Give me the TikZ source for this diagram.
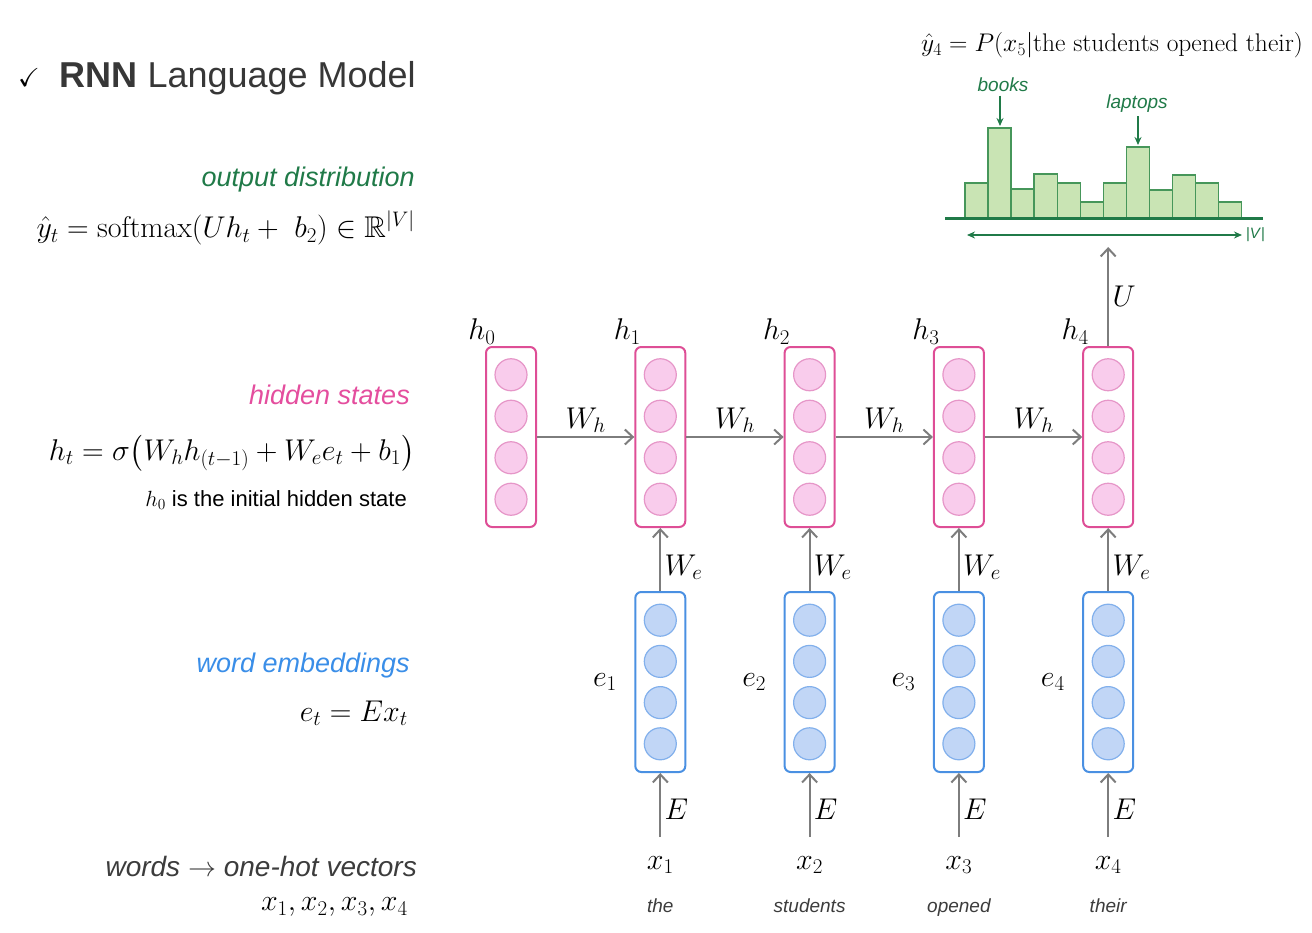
\RequirePackage{fix-cm}
\documentclass[tikz,border=0pt]{standalone}
\usepackage{amsmath, amssymb}
\usepackage{fontspec}
\newfontfamily\arial{Liberation Sans}
\usepackage{xcolor}
\usepackage{tikz}
\usetikzlibrary{arrows.meta, positioning, calc}
\definecolor{hidline}{RGB}{222,78,150}
\definecolor{hidunitfill}{RGB}{249,204,236}
\definecolor{hidunitline}{RGB}{230,150,200}
\definecolor{embline}{RGB}{74,144,226}
\definecolor{embunitfill}{RGB}{193,214,246}
\definecolor{embunitline}{RGB}{130,176,236}
\definecolor{distgreen}{RGB}{32,122,72}
\definecolor{barfill}{RGB}{201,228,180}
\definecolor{barline}{RGB}{70,150,90}
\definecolor{hidtext}{RGB}{228,78,158}
\definecolor{embtext}{RGB}{58,142,232}
\definecolor{arrowgray}{RGB}{125,125,125}
\definecolor{titlegray}{RGB}{55,55,55}
\definecolor{wordgray}{RGB}{60,60,60}
\tikzset{
    hidbox/.style={rectangle, rounded corners=6pt, draw=hidline, line width=2pt, fill=white, minimum width=50pt, minimum height=180pt},
    embbox/.style={hidbox, draw=embline},
    hidunit/.style={circle, draw=hidunitline, fill=hidunitfill, line width=1.2pt, minimum size=32pt, inner sep=0pt},
    embunit/.style={hidunit, draw=embunitline, fill=embunitfill},
    arrow/.style={line width=2pt, draw=arrowgray, -{Straight Barb[length=8pt, width=15pt]}},
    greenarrow/.style={line width=1.5pt, draw=distgreen, -{Stealth[length=8pt, width=7pt]}},
    vocab/.style={line width=2pt, draw=distgreen, {Stealth[length=8pt, width=7pt]}-{Stealth[length=8pt, width=7pt]}},
    mathlbl/.style={font=\fontsize{30}{36}\selectfont},
    side/.style={anchor=east, inner sep=1pt, font=\arial\itshape\fontsize{27}{32}\selectfont},
    formula/.style={anchor=east, inner sep=1pt, font=\fontsize{30}{36}\selectfont},
    word/.style={font=\arial\itshape\fontsize{19}{23}\selectfont, text=wordgray},
    bar/.style={draw=barline, fill=barfill, line width=1.5pt}
}

\begin{document}
\begin{tikzpicture}[x=1pt, y=-1pt, node distance=97.3pt]
    \useasboundingbox (0,0) rectangle (1312,933);

    % left column
    \node (tick) at (29,78) {\fontsize{26}{30}\selectfont$\checkmark$};
    \node (title) [anchor=west, font=\arial\fontsize{36}{42}\selectfont, text=titlegray] at (56,78) {\textbf{RNN} Language Model};
    \node (outlbl) [side, text=distgreen] at (416,180) {output distribution};
    \node (softmax) [formula] at (416,228) {$\hat{y}_t = \mathrm{softmax}(Uh_t +\ b_2) \in \mathbb{R}^{|V|}$};
    \node (hidlbl) [side, text=hidtext] at (411,395) {hidden states};
    \node (hform) [formula] at (416,453) {$h_t = \sigma\bigl(W_h h_{(t-1)} + W_e e_t + b_1\bigr)$};
    \node (h0note) [anchor=east, inner sep=1pt, font=\arial\fontsize{22}{26}\selectfont] at (408,500) {$h_0$ is the initial hidden state};
    \node (emblbl) [side, text=embtext] at (411,666) {word embeddings};
    \node (eform) [formula] at (409,713) {$e_t = Ex_t$};
    \node (onehot) [side, text=wordgray, font=\arial\itshape\fontsize{28}{32}\selectfont] at (418,866) {words $\rightarrow$ one-hot vectors};
    \node (xlist) [formula] at (409,907) {$x_1, x_2, x_3, x_4$};

    % hidden states
    \node (h0) [hidbox] at (511,437) {};
    \node (h1) [hidbox, right=of h0] {};
    \node (h2) [hidbox, right=of h1] {};
    \node (h3) [hidbox, right=of h2] {};
    \node (h4) [hidbox, right=of h3] {};

    % word embeddings
    \node (e1) [embbox, below=63pt of h1] {};
    \node (e2) [embbox, below=63pt of h2] {};
    \node (e3) [embbox, below=63pt of h3] {};
    \node (e4) [embbox, below=63pt of h4] {};

    \foreach \b in {h0,h1,h2,h3,h4}
        \foreach \k in {1,...,4}
            \node (\b-\k) [hidunit] at ($(\b.center)+(0,{(\k-2.5)*41.5})$) {};
    \foreach \b in {e1,e2,e3,e4}
        \foreach \k in {1,...,4}
            \node (\b-\k) [embunit] at ($(\b.center)+(0,{(\k-2.5)*41.2})$) {};

    \node (h0lbl) [mathlbl, above=-2pt of h0.north west, xshift=-3pt] {$h_0$};
    \foreach \i in {1,...,4} {
        \node (h\i lbl) [mathlbl, above=-2pt of h\i.north west, xshift=-7pt] {$h_\i$};
        \node (e\i lbl) [mathlbl, left=14pt of e\i] {$e_\i$};
        \draw [arrow] (e\i) -- node[mathlbl, right, pos=0.38] (we\i) {$W_e$} (h\i);
    }

    \draw [arrow] (h0) -- node[mathlbl, above] (wh1) {$W_h$} (h1);
    \draw [arrow] (h1) -- node[mathlbl, above] (wh2) {$W_h$} (h2);
    \draw [arrow] (h2) -- node[mathlbl, above] (wh3) {$W_h$} (h3);
    \draw [arrow] (h3) -- node[mathlbl, above] (wh4) {$W_h$} (h4);

    % words
    \node (x1) [mathlbl, below=80pt of e1] {$x_1$};
    \node (x2) [mathlbl, below=80pt of e2] {$x_2$};
    \node (x3) [mathlbl, below=80pt of e3] {$x_3$};
    \node (x4) [mathlbl, below=80pt of e4] {$x_4$};
    \node (w1) [word, below=18pt of x1] {the};
    \node (w2) [word, below=18pt of x2] {students};
    \node (w3) [word, below=18pt of x3] {opened};
    \node (w4) [word, below=18pt of x4] {their};
    \foreach \i in {1,...,4}
        \draw [arrow, shorten <=16pt] (x\i) -- node[mathlbl, right, pos=0.55] (emb\i) {$E$} (e\i);

    % output distribution
    \coordinate (dist) at ($(h4.north)+(0,-99)$);
    \draw [arrow] (h4) -- node[mathlbl, right] (ulbl) {$U$} (dist);
    \node (yhat) [font=\fontsize{25.5}{30}\selectfont] at (1112,45) {$\hat{y}_4 = P(x_5|\mathrm{the\ students\ opened\ their})$};
    \foreach \h [count=\i] in {36,91,30,45,36,17,36,72,29,44,36,17}
        \draw [bar] ({965+(\i-1)*23.06},219) rectangle +(23.06,-\h);
    \coordinate (axl) at (945,219);
    \coordinate (axr) at (1263,219);
    \draw [line width=3pt, draw=distgreen] (axl) -- (axr);
    \coordinate (vl) at (967,235);
    \coordinate (vr) at (1242,235);
    \draw [vocab] (vl) -- (vr) node[right, inner sep=3pt, text=distgreen, font=\arial\fontsize{15}{18}\selectfont] (vsize) {|\textit{V}|};
    \node (books) [word, text=distgreen] at (1003,85) {books};
    \coordinate (booksbar) at (1000,126);
    \draw [greenarrow] (books.south -| booksbar) -- (booksbar);
    \node (laptops) [word, text=distgreen] at (1137,104) {laptops};
    \coordinate (laptopsbar) at (1138,145);
    \draw [greenarrow] (laptops.south -| laptopsbar) -- (laptopsbar);
\end{tikzpicture}
\end{document}
